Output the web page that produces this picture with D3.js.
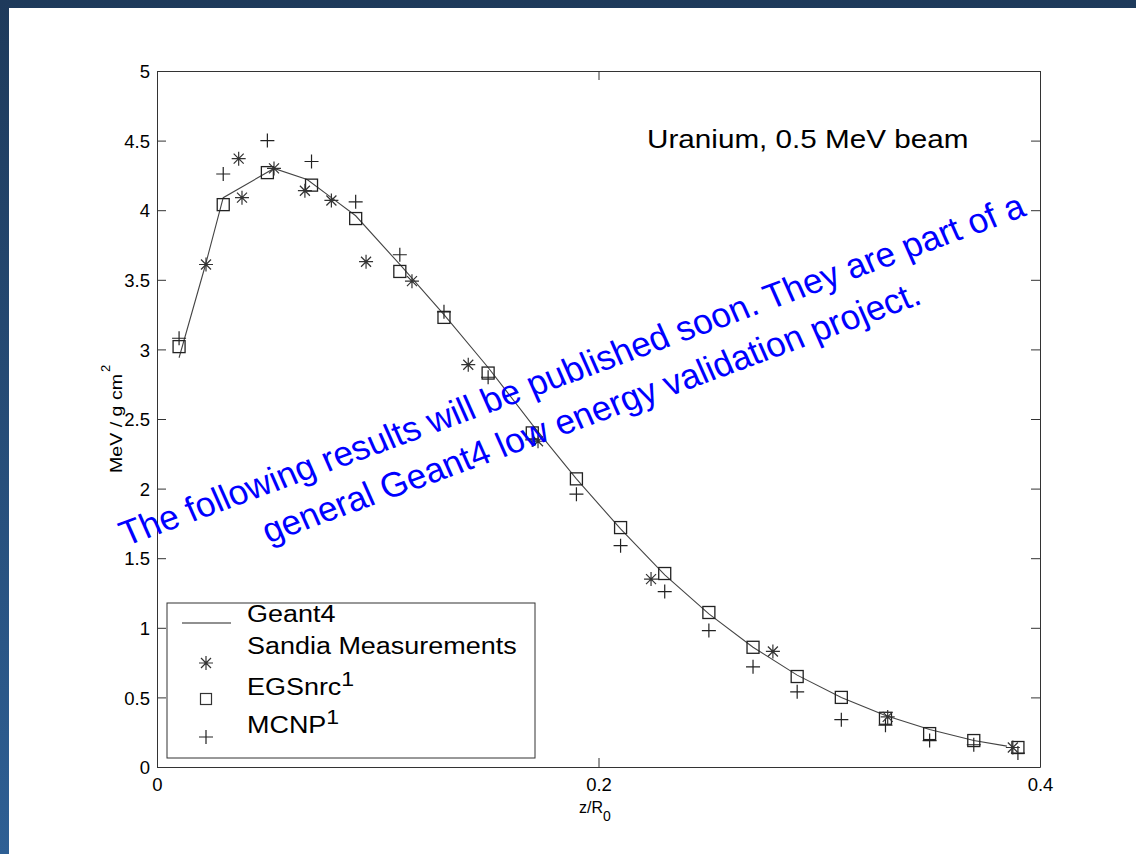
<!DOCTYPE html>
<html><head><meta charset="utf-8">
<script src="https://cdn.jsdelivr.net/npm/d3@7"></script>
<style>
html,body{margin:0;padding:0;background:#fff;}
svg{display:block;}
text{font-family:"Liberation Sans",Arial,Helvetica,sans-serif;}
</style></head>
<body>
<svg id="c" width="1136" height="854"></svg>
<script>
// ---- data ----
const g4Z   = [0.010,0.022,0.030,0.053,0.068,0.079,0.090,0.110,0.130,0.150,0.170,0.190,0.210,0.230,0.250,0.270,0.290,0.310,0.330,0.350,0.370,0.385];
const g4Val = [2.94,3.61,4.09,4.30,4.22,4.09,3.96,3.61,3.25,2.87,2.46,2.07,1.71,1.38,1.10,0.86,0.66,0.50,0.37,0.27,0.19,0.15];
const sandiaZ   = [0.0222,0.0370,0.0385,0.0530,0.0670,0.0790,0.0947,0.1155,0.1410,0.1726,0.2238,0.2790,0.3310,0.3877];
const sandiaVal = [3.61,4.37,4.09,4.30,4.14,4.07,3.63,3.49,2.89,2.34,1.35,0.83,0.36,0.14];
const mcZ    = [0.01,0.03,0.05,0.07,0.09,0.11,0.13,0.15,0.17,0.19,0.21,0.23,0.25,0.27,0.29,0.31,0.33,0.35,0.37,0.39];
const egsVal = [3.02,4.04,4.27,4.18,3.94,3.56,3.23,2.83,2.40,2.07,1.72,1.39,1.11,0.86,0.65,0.50,0.35,0.24,0.19,0.14];
const mcnpVal= [3.08,4.26,4.50,4.35,4.06,3.68,3.27,2.80,2.35,1.96,1.59,1.26,0.98,0.72,0.54,0.34,0.30,0.19,0.16,0.10];
const yTicks = [0,0.5,1,1.5,2,2.5,3,3.5,4,4.5,5];
const xTicks = [0,0.2,0.4];
const seriesNames = ["Geant4","Sandia Measurements","EGSnrc","MCNP"];
const titleText = "Uranium, 0.5 MeV beam";
const noteLines = ["The following results will be published soon. They are part of a",
                   "general Geant4 low energy validation project."];

const svg = d3.select("#c");

// ---- slide background ----
const defs = svg.append("defs");
const grad = defs.append("linearGradient").attr("id","bg").attr("x1",0).attr("y1",0).attr("x2",0).attr("y2",1);
grad.append("stop").attr("offset","0%").attr("stop-color","#1e3a5b");
grad.append("stop").attr("offset","100%").attr("stop-color","#2e5f94");
svg.append("rect").attr("width",1136).attr("height",854).attr("fill","url(#bg)");
svg.append("rect").attr("x",9).attr("y",8).attr("width",1127).attr("height",846).attr("fill","#fff");

// ---- scales ----
const x = d3.scaleLinear().domain([0,0.4]).range([157,1040]);
const y = d3.scaleLinear().domain([0,5]).range([767,71]);
const axisColor = "#333";
const fmt = d => String(d);

function styleAxis(g){
  g.select(".domain").attr("stroke",axisColor);
  g.selectAll(".tick line").attr("stroke",axisColor);
  g.selectAll(".tick text").attr("fill","#000").attr("font-size",18.5)
    .attr("font-family","'Liberation Sans',Arial,sans-serif");
}
svg.append("g").attr("transform","translate(157,0)")
  .call(d3.axisLeft(y).tickValues(yTicks).tickFormat(fmt).tickSize(-9).tickSizeOuter(0).tickPadding(7))
  .call(styleAxis).call(g=>g.selectAll(".tick text").attr("dy","0.36em"));
svg.append("g").attr("transform","translate(0,767)")
  .call(d3.axisBottom(x).tickValues(xTicks).tickFormat(fmt).tickSize(-9).tickSizeOuter(0).tickPadding(11))
  .call(styleAxis);
svg.append("g").attr("transform","translate(1040,0)")
  .call(d3.axisRight(y).tickValues(yTicks).tickFormat("").tickSize(-9).tickSizeOuter(0))
  .call(styleAxis);
svg.append("g").attr("transform","translate(0,71)")
  .call(d3.axisTop(x).tickValues(xTicks).tickFormat("").tickSize(-9).tickSizeOuter(0))
  .call(styleAxis);

// ---- axis labels ----
const xl = svg.append("text").attr("x",579).attr("y",813).attr("font-size",16).attr("fill","#000");
xl.append("tspan").text("z/R");
xl.append("tspan").attr("dy",8).attr("font-size",14).text("0");

const ylG = svg.append("g").attr("transform","translate(122,473) rotate(-90)");
ylG.append("text").attr("x",0).attr("y",0).attr("font-size",17)
  .attr("textLength",99).attr("lengthAdjust","spacingAndGlyphs").text("MeV / g cm");
ylG.append("text").attr("x",101).attr("y",-12).attr("font-size",13).text("2");

// ---- markers ----
const starPath = "M-7,0H7M0,-7V7M-5,-5L5,5M-5,5L5,-5";
const plusPath = "M-7,0H7M0,-7V7";

// Geant4 line
const line = d3.line().x(d=>x(d[0])).y(d=>y(d[1]));
svg.append("path").datum(g4Z.map((z,i)=>[z,g4Val[i]]))
  .attr("d",line).attr("fill","none").attr("stroke","#444").attr("stroke-width",1.1);

// EGSnrc squares
svg.append("g").selectAll("rect").data(mcZ.map((z,i)=>[z,egsVal[i]])).join("rect")
  .attr("x",d=>x(d[0])-6).attr("y",d=>y(d[1])-6).attr("width",12).attr("height",12)
  .attr("fill","none").attr("stroke","#222").attr("stroke-width",1.3);
// MCNP plus
svg.append("g").selectAll("path").data(mcZ.map((z,i)=>[z,mcnpVal[i]])).join("path")
  .attr("transform",d=>`translate(${x(d[0])},${y(d[1])})`).attr("d",plusPath)
  .attr("fill","none").attr("stroke","#222").attr("stroke-width",1.2);
// Sandia stars
svg.append("g").selectAll("path").data(sandiaZ.map((z,i)=>[z,sandiaVal[i]])).join("path")
  .attr("transform",d=>`translate(${x(d[0])},${y(d[1])})`).attr("d",starPath)
  .attr("fill","none").attr("stroke","#333").attr("stroke-width",1.2);

// ---- title annotation ----
svg.append("text").attr("transform","translate(647,148) scale(1.12,1)")
  .attr("font-size",26.5).attr("fill","#000").text(titleText);

// ---- legend ----
const lg = svg.append("g");
lg.append("rect").attr("x",167).attr("y",603).attr("width",368).attr("height",155)
  .attr("fill","#fff").attr("stroke","#333").attr("stroke-width",1);
lg.append("line").attr("x1",182).attr("x2",231).attr("y1",623).attr("y2",623).attr("stroke","#222").attr("stroke-width",1.1);
lg.append("path").attr("transform","translate(206,663)").attr("d",starPath).attr("fill","none").attr("stroke","#333").attr("stroke-width",1.2);
lg.append("rect").attr("x",200.5).attr("y",693.5).attr("width",11).attr("height",11).attr("fill","none").attr("stroke","#333").attr("stroke-width",1.2);
lg.append("path").attr("transform","translate(206,737)").attr("d",plusPath).attr("fill","none").attr("stroke","#222").attr("stroke-width",1.2);
const legRows = [
  {name:seriesNames[0], by:622, sup:false},
  {name:seriesNames[1], by:654, sup:false},
  {name:seriesNames[2], by:695, sup:true},
  {name:seriesNames[3], by:733, sup:true}
];
legRows.forEach(r=>{
  const t = lg.append("text").attr("transform",`translate(247,${r.by}) scale(1.1,1)`)
    .attr("font-size",24.5).attr("fill","#000");
  t.append("tspan").text(r.name);
  if(r.sup) t.append("tspan").attr("dy",-9).attr("font-size",21).text("1");
});

// ---- blue note ----
const note = svg.append("g").attr("transform","translate(581,390) scale(1.1,1) rotate(-22)");
const noteLen = [884, 642];
note.selectAll("text").data(noteLines).join("text")
  .attr("x",0).attr("y",(d,i)=> i===0 ? -10 : 36)
  .attr("text-anchor","middle").attr("font-size",35)
  .attr("textLength",(d,i)=>noteLen[i]).attr("lengthAdjust","spacingAndGlyphs")
  .attr("fill","#0000ff").text(d=>d);
</script>
</body></html>
